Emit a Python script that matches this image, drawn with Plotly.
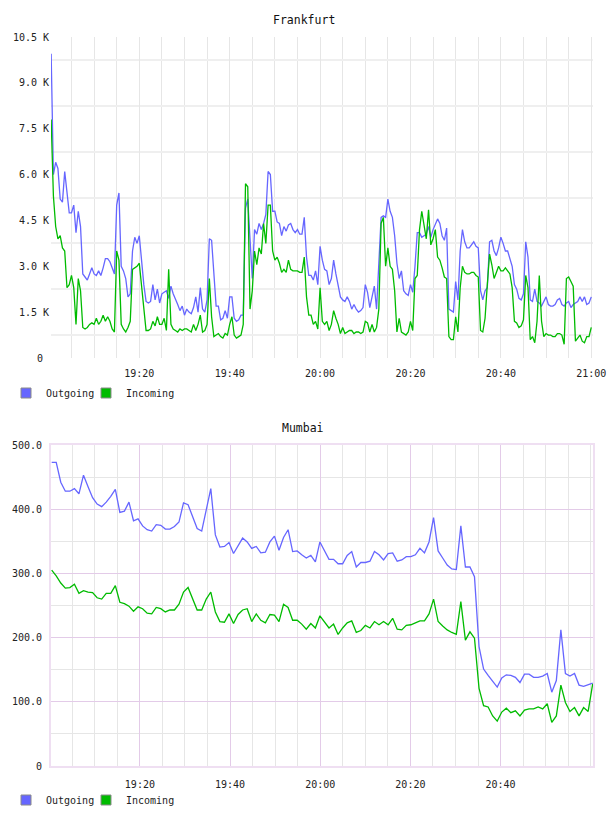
import plotly.graph_objects as go
import pandas as pd

# ---------------- data ----------------
DAY = "2012-06-01"

# Frankfurt, thousands of units, 30 s samples starting 19:00:30
frankfurt_outgoing_k = [
    9.95, 6.0, 6.4, 6.2, 5.2, 5.1, 6.1, 5.4, 4.75, 4.75,
    5.0, 4.1, 4.8, 4.3, 2.75, 2.65, 2.55, 2.75, 2.95, 2.75,
    2.7, 2.85, 2.7, 2.95, 3.25, 3.25, 3.15, 2.95, 2.75, 5.0,
    5.4, 3.0, 2.85, 2.6, 2.0, 2.1, 3.5, 3.95, 3.75, 4.0,
    3.1, 2.4, 1.85, 1.8, 1.85, 2.4, 1.9, 2.25, 1.8, 2.1,
    2.15, 2.2, 1.95, 2.35, 2.1, 1.95, 1.75, 1.55, 1.7, 1.4,
    1.6, 1.5, 1.45, 1.65, 2.0, 1.5, 2.3, 1.6, 1.5, 1.9,
    3.9, 3.85, 2.8, 1.7, 1.7, 1.25, 1.3, 1.55, 1.3, 2.0,
    2.0, 1.3, 1.2, 1.25, 1.4, 1.4, 4.9, 5.2, 3.9, 2.6,
    4.2, 4.05, 4.4, 4.2, 4.4, 4.7, 6.1, 6.0, 4.8, 4.8,
    4.45, 4.4, 4.0, 4.3, 4.15, 4.35, 4.4, 4.2, 4.1, 4.2,
    4.05, 4.05, 4.6, 3.3, 2.7, 2.7, 2.55, 2.85, 2.4, 3.65,
    3.2, 2.9, 2.85, 2.4, 2.6, 3.2, 2.75, 2.4, 2.0, 1.9,
    1.85, 2.0, 1.85, 1.6, 1.75, 1.6, 1.5, 1.55, 1.65, 2.4,
    2.15, 1.65, 2.05, 2.35, 1.6, 3.1, 4.6, 4.65, 4.6, 5.2,
    4.8, 4.6, 4.0, 3.1, 2.6, 2.85, 2.2, 2.1, 2.05,
    2.4, 2.15, 3.0, 4.1, 4.1, 3.95, 4.0, 4.05, 4.3, 3.95, 4.2,
    4.35, 4.55, 4.4, 4.0, 3.85, 4.25, 1.6, 1.55, 1.5, 2.5,
    1.9, 3.5, 4.2, 3.8, 3.6, 3.6, 3.7, 3.8, 3.65, 3.6,
    2.2, 1.9, 2.2, 2.3, 3.8, 3.85, 3.5, 3.35, 3.6, 3.95,
    3.75, 3.5, 3.5, 3.2, 3.0, 2.4, 2.25, 1.95, 1.9, 2.1,
    3.8, 3.3, 1.9, 1.85, 2.25, 1.85, 1.8, 1.7, 1.85, 2.0,
    1.75, 1.7, 1.7, 1.75, 1.9, 1.95, 1.75, 1.7, 1.8, 1.85,
    1.65, 1.75, 1.8, 1.85, 2.0, 1.85, 2.0, 1.75, 1.8, 2.0,
]
frankfurt_incoming_k = [
    7.8, 5.3, 4.3, 3.9, 4.0, 3.6, 3.5, 2.3, 2.4, 2.7,
    2.3, 1.1, 2.6, 2.2, 1.0, 0.95, 1.0, 1.1, 1.15, 1.1,
    1.3, 1.1, 1.2, 1.4, 1.2, 1.35, 1.2, 0.95, 0.85, 3.5,
    3.2, 1.1, 0.95, 0.85, 1.0, 1.2, 2.9, 2.95, 3.0, 3.1,
    2.4, 1.6, 0.9, 0.9, 0.95, 1.2, 1.05, 1.35, 1.1, 1.1,
    1.3, 0.9, 2.9, 1.1, 0.95, 0.9, 0.85, 0.95, 0.9, 0.95,
    0.95, 0.9, 0.85, 1.1, 0.9, 1.1, 1.4, 0.85, 0.9, 1.1,
    2.6, 1.35, 0.7, 0.75, 0.8, 0.7, 0.65, 0.8, 0.75, 1.1,
    1.35, 0.75, 0.65, 0.7, 0.75, 1.1, 5.7, 5.6, 1.6, 2.2,
    3.5, 3.05, 3.6, 3.4, 4.4, 3.75, 5.0, 5.0, 3.5, 3.2,
    3.3, 3.1, 2.8, 2.9, 2.8, 3.2, 2.9, 2.85, 2.85, 2.85,
    2.8, 2.8, 3.3, 2.0, 1.4, 1.4, 1.1, 1.2, 0.95, 2.3,
    1.2, 1.1, 1.2, 0.9, 1.1, 1.55, 1.3, 1.1, 0.8, 1.0,
    0.8, 0.85, 0.9, 0.9, 0.8, 0.85, 0.85, 0.8, 0.85, 1.2,
    1.15, 0.85, 1.1, 0.85, 1.0, 1.6, 4.4, 4.6, 3.0, 3.6,
    3.0, 2.9, 2.2, 0.85, 1.3, 0.85, 0.8, 0.75, 0.85,
    1.2, 0.9, 2.6, 2.7, 4.2, 4.8, 4.4, 3.9, 4.85, 3.7, 3.9,
    4.2, 3.3, 3.2, 2.95, 2.65, 2.6, 0.7, 0.6, 0.6, 1.35,
    0.85, 2.3, 3.0, 2.8, 2.75, 2.75, 2.8, 2.8, 2.7, 2.65,
    0.9, 0.85, 1.3, 2.4, 3.4, 3.05, 2.6, 2.8, 3.0, 2.85,
    2.85, 2.95, 2.85, 2.75, 2.3, 1.2, 1.15, 1.0, 1.05, 1.25,
    2.7, 2.3, 0.6, 0.7, 0.5, 1.2, 2.7, 1.2, 0.7, 0.8,
    0.75, 0.75, 0.7, 0.7, 0.8, 0.8, 0.75, 0.45, 2.6, 2.65,
    2.5, 2.35, 0.55, 0.65, 0.75, 0.55, 0.5, 0.7, 0.7, 1.0,
]

# Mumbai, ~1 min samples from 19:00:26 to 21:00:26
mumbai_outgoing = [
    473, 473, 442, 428, 428, 432, 424, 453, 435, 418, 408, 404, 411, 420, 431, 395, 397, 411, 382, 385,
    374, 368, 366, 376, 375, 369, 369, 373, 380, 410, 407, 388, 370, 366, 400, 432, 360, 341, 342, 348,
    331, 342, 355, 349, 339, 342, 332, 333, 349, 358, 336, 356, 368, 334, 335, 329, 324, 328, 318, 349,
    336, 322, 322, 315, 315, 328, 334, 310, 317, 317, 319, 334, 329, 321, 331, 332, 319, 321, 326, 326,
    329, 339, 332, 349, 387, 335, 324, 313, 307, 306, 374, 310, 310, 295, 186, 151, 141, 131, 123, 137,
    142, 141, 138, 130, 143, 143, 138, 138, 140, 144, 115, 133, 212, 144, 140, 144, 126, 124, 126, 129,
]
mumbai_incoming = [
    305, 296, 285, 277, 278, 283, 269, 273, 271, 270, 262, 260, 269, 269, 281, 255, 253, 249, 241, 248,
    245, 238, 237, 247, 245, 240, 243, 243, 252, 271, 278, 261, 243, 243, 260, 271, 240, 225, 224, 237,
    222, 236, 243, 245, 225, 237, 227, 223, 236, 235, 225, 252, 247, 227, 227, 221, 213, 222, 215, 234,
    225, 215, 221, 205, 215, 223, 226, 208, 211, 219, 215, 225, 220, 225, 220, 230, 213, 212, 219, 220,
    223, 226, 226, 237, 260, 225, 218, 212, 208, 205, 256, 196, 209, 199, 121, 94, 92, 78, 70, 84,
    90, 83, 86, 78, 87, 89, 89, 92, 89, 97, 68, 78, 126, 99, 85, 91, 78, 91, 85, 128,
]

time_ticks = ["19:20", "19:40", "20:00", "20:20", "20:40", "21:00"]
frankfurt_yticks = [0, 1500, 3000, 4500, 6000, 7500, 9000, 10500]
frankfurt_ylabels = ["0\u00a0", "1.5 K", "3.0 K", "4.5 K", "6.0 K", "7.5 K", "9.0 K", "10.5 K"]
mumbai_yticks = [0, 100, 200, 300, 400, 500]
mumbai_ylabels = ["0", "100.0", "200.0", "300.0", "400.0", "500.0"]
series_names = ["Outgoing", "Incoming"]

# ---------------- styles ----------------
BLUE = "#6666ff"
GREEN = "#00bb00"
GRID = "#e6e6e6"
FGRID = "#efefef"
PURPLE = "#e3cbe8"
BORDER = "#efdff2"
FONT = "DejaVu Sans Mono"
W, H = 608, 816

def ts(hm):
    return pd.Timestamp(f"{DAY} {hm}")

f_out = [v * 1000 for v in frankfurt_outgoing_k]
f_in = [v * 1000 for v in frankfurt_incoming_k]
f_t_out = [ts("19:00:30") + pd.Timedelta(seconds=30 * i) for i in range(len(f_out))]
f_t_in = [ts("19:00:30") + pd.Timedelta(seconds=30 * i) for i in range(len(f_in))]
m_t_out = pd.date_range(ts("19:00:26"), ts("21:00:26"), periods=len(mumbai_outgoing))
m_t_in = pd.date_range(ts("19:00:26"), ts("21:00:26"), periods=len(mumbai_incoming))

fig = go.Figure()
fig.add_trace(go.Scatter(x=f_t_out, y=f_out, mode="lines", line=dict(color=BLUE, width=1.3),
                         showlegend=False, xaxis="x", yaxis="y", hoverinfo="skip"))
fig.add_trace(go.Scatter(x=f_t_in, y=f_in, mode="lines", line=dict(color=GREEN, width=1.3),
                         showlegend=False, xaxis="x", yaxis="y", hoverinfo="skip"))
fig.add_trace(go.Scatter(x=m_t_out, y=mumbai_outgoing, mode="lines", line=dict(color=BLUE, width=1.3),
                         showlegend=False, xaxis="x2", yaxis="y2", hoverinfo="skip"))
fig.add_trace(go.Scatter(x=m_t_in, y=mumbai_incoming, mode="lines", line=dict(color=GREEN, width=1.3),
                         showlegend=False, xaxis="x2", yaxis="y2", hoverinfo="skip"))

# legend-only entries (square swatches)
for lg, xa, ya in (("legend", "x", "y"), ("legend2", "x2", "y2")):
    for idx, (name, col) in enumerate(zip(series_names, (BLUE, GREEN))):
        fig.add_trace(go.Scatter(x=[None], y=[None], mode="markers", name=name, legend=lg,
                                 legendwidth=35 if idx == 0 else None,
                                 marker=dict(symbol="square", size=10, color=col,
                                             line=dict(color="#8a8a8a", width=1)),
                                 xaxis=xa, yaxis=ya))

xdom = [51 / W, 593 / W]
tickfont = dict(family=FONT, size=10, color="#222")
legend_common = dict(x=6 / W, xanchor="left", yanchor="middle", orientation="h",
                     itemwidth=30, bgcolor="rgba(0,0,0,0)", borderwidth=0,
                     font=dict(family=FONT, size=10, color="#222"), itemclick=False)

fig.update_layout(
    template="none",
    width=W, height=H,
    margin=dict(l=0, r=0, t=0, b=0, autoexpand=False),
    paper_bgcolor="white", plot_bgcolor="white",
    font=dict(family=FONT, size=10, color="#222"),
    xaxis=dict(
        domain=xdom, anchor="y", automargin=False,
        range=[ts("19:00:28"), ts("21:00:23")],
        tickmode="array", tickvals=[ts(t) for t in time_ticks], ticktext=time_ticks,
        showgrid=True, gridcolor=GRID, gridwidth=1,
        minor=dict(tickmode="linear", tick0=ts("19:00"), dtick=300000, showgrid=True,
                   gridcolor=GRID, gridwidth=1, ticks=""),
        showline=False, zeroline=False, ticks="", ticklabelstandoff=8,
        tickfont=tickfont, fixedrange=True,
    ),
    yaxis=dict(
        domain=[1 - 358 / H, 1 - 37 / H], anchor="x", automargin=False,
        range=[0, 10500],
        tickmode="array", tickvals=frankfurt_yticks, ticktext=frankfurt_ylabels,
        showgrid=False,
        minor=dict(tickmode="array",
                   tickvals=[(a + b) / 2 for a, b in zip(frankfurt_yticks[:-1], frankfurt_yticks[1:])],
                   showgrid=True, gridcolor=FGRID, gridwidth=2, ticks=""),
        showline=False, zeroline=False, ticks="", ticklabelstandoff=1,
        tickfont=tickfont, fixedrange=True,
    ),
    xaxis2=dict(
        domain=xdom, anchor="y2", automargin=False,
        range=[ts("19:00:17"), ts("21:00:30")],
        tickmode="array", tickvals=[ts(t) for t in time_ticks[:-1]], ticktext=time_ticks[:-1],
        showgrid=True, gridcolor=PURPLE, gridwidth=1,
        minor=dict(tickmode="linear", tick0=ts("19:00"), dtick=300000, showgrid=True,
                   gridcolor=GRID, gridwidth=1, ticks=""),
        showline=True, mirror=True, linecolor=BORDER, linewidth=2,
        zeroline=False, ticks="", ticklabelstandoff=8,
        tickfont=tickfont, fixedrange=True,
    ),
    yaxis2=dict(
        domain=[1 - 766 / H, 1 - 445 / H], anchor="x2", automargin=False,
        range=[0, 500],
        tickmode="array", tickvals=mumbai_yticks, ticktext=mumbai_ylabels,
        showgrid=True, gridcolor=PURPLE, gridwidth=1,
        minor=dict(tickmode="array",
                   tickvals=[(a + b) / 2 for a, b in zip(mumbai_yticks[:-1], mumbai_yticks[1:])],
                   showgrid=True, gridcolor=GRID, gridwidth=1, ticks=""),
        showline=True, mirror=True, linecolor=BORDER, linewidth=2,
        zeroline=False, ticks="", ticklabelstandoff=5,
        tickfont=tickfont, fixedrange=True,
    ),
    legend=dict(y=1 - 393 / H, **legend_common),
    legend2=dict(y=1 - 800 / H, **legend_common),
    annotations=[
        dict(text="Frankfurt", x=304 / W, y=1 - 20 / H, xref="paper", yref="paper",
             xanchor="center", yanchor="middle", showarrow=False,
             font=dict(family=FONT, size=11.5, color="#111")),
        dict(text="Mumbai", x=303 / W, y=1 - 428 / H, xref="paper", yref="paper",
             xanchor="center", yanchor="middle", showarrow=False,
             font=dict(family=FONT, size=11.5, color="#111")),
    ],
)

fig.write_html("out.html", config={"displayModeBar": False})
